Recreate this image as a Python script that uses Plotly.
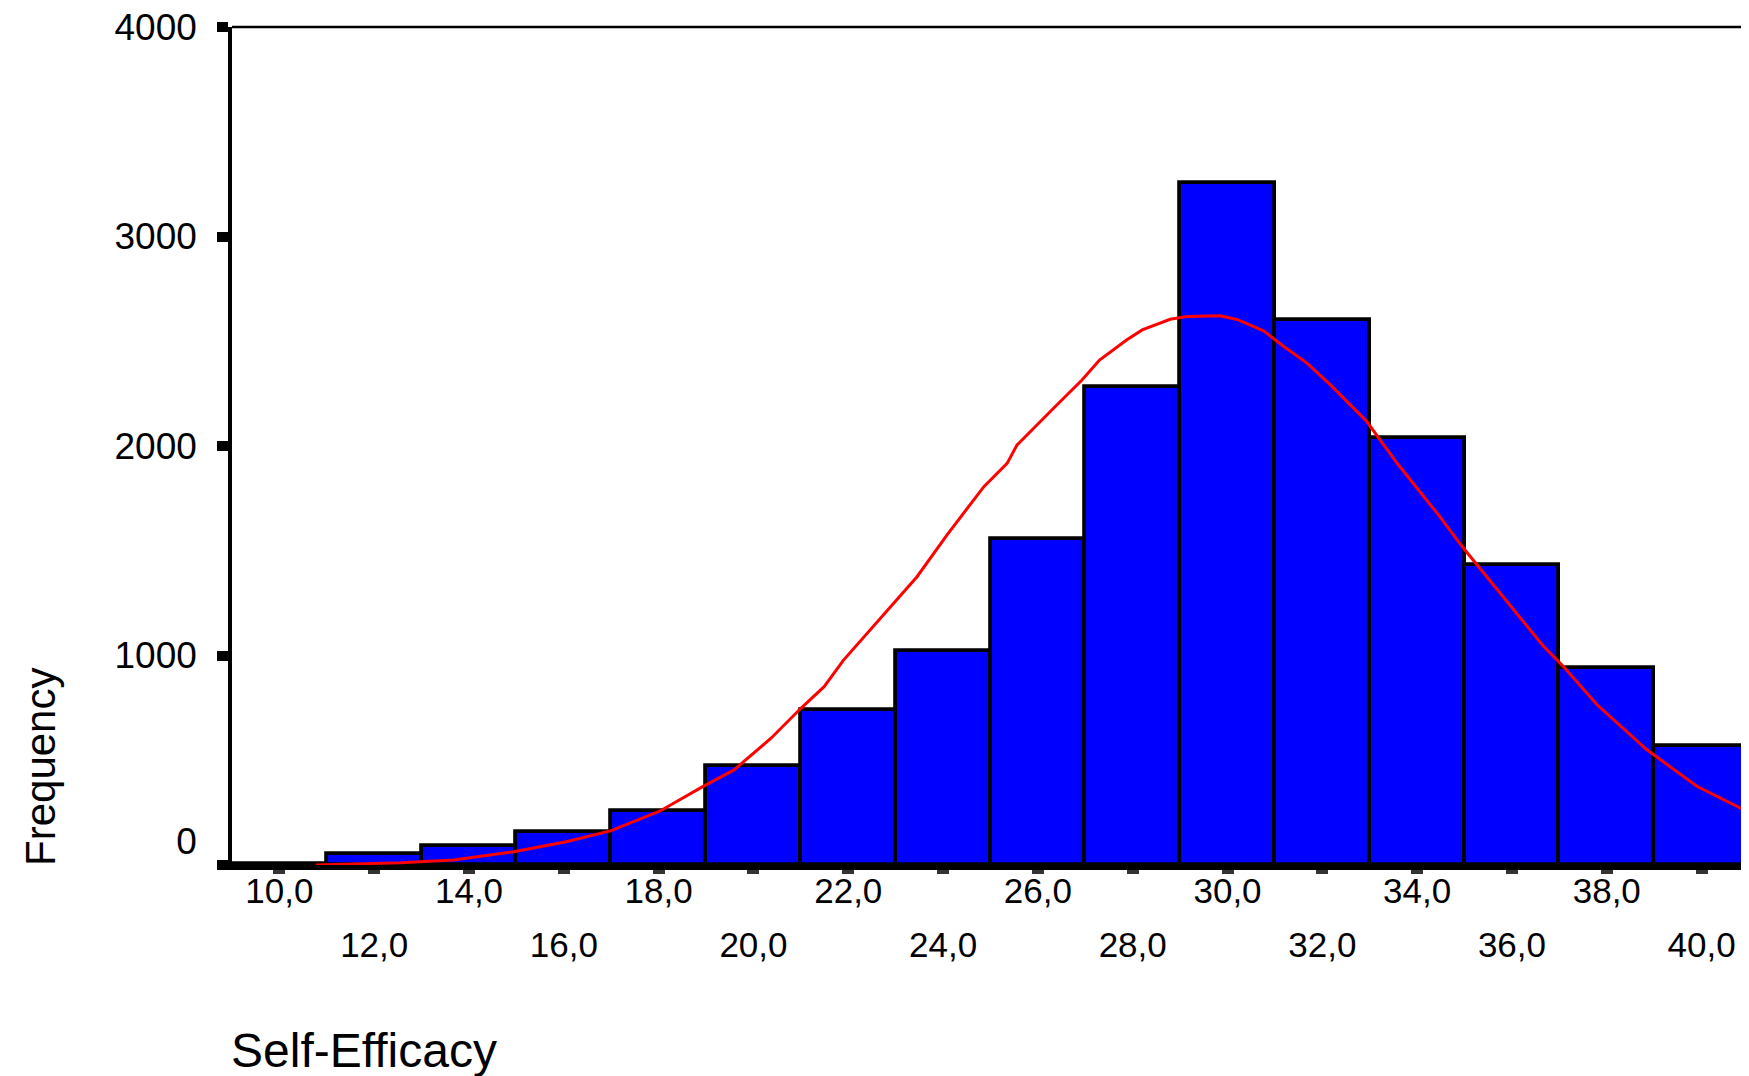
import plotly.graph_objects as go

# ---- data ----
bin_centers = [10, 12, 14, 16, 18, 20, 22, 24, 26, 28, 30, 32, 34, 36, 38, 40]
counts = [4, 51, 92, 159, 259, 473, 740, 1022, 1556, 2280, 3254, 2603, 2040, 1434, 941, 569]

curve_x = [10.77, 11.5, 12.56, 13.67, 14.97, 16.05, 17.0, 18.03, 18.93, 19.59, 20.37, 21.0,
           21.49, 21.9, 22.4, 22.96, 23.45, 24.08, 24.86, 25.35, 25.56, 26.33, 26.93, 27.3,
           27.87, 28.2, 28.79, 29.14, 29.84, 30.2, 30.76, 31.18, 31.67, 32.16, 32.93, 33.57,
           34.47, 34.97, 35.74, 36.66, 37.08, 37.79, 38.84, 39.9, 40.95]
curve_y = [0, 4, 11, 24, 64, 111, 164, 258, 374, 454, 605, 748,
           851, 978, 1106, 1249, 1376, 1575, 1806, 1917, 2005, 2180, 2315, 2410,
           2506, 2554, 2605, 2618, 2622, 2604, 2550, 2476, 2397, 2294, 2119, 1920,
           1665, 1514, 1299, 1045, 949, 766, 551, 376, 257]

row1_ticks = [10, 14, 18, 22, 26, 30, 34, 38]
row2_ticks = [12, 16, 20, 24, 28, 32, 36, 40]
y_ticks = [0, 1000, 2000, 3000, 4000]
y_ticktext = ["0<br> ", "1000", "2000", "3000", "4000"]

x_title = "Self-Efficacy"
y_title = "Frequency"

FONT = "Liberation Sans, Arial, sans-serif"

fig = go.Figure()
fig.add_trace(go.Bar(
    x=bin_centers, y=counts, width=2,
    marker=dict(color="#0000FF", line=dict(color="black", width=3.8)),
    showlegend=False,
))
fig.add_trace(go.Scatter(
    x=curve_x, y=curve_y, mode="lines", xaxis="x2",
    line=dict(color="#FF0000", width=3),
    showlegend=False,
))

all_ticks = sorted(row1_ticks + row2_ticks)
fig.update_layout(
    width=1741, height=1068,
    margin=dict(l=224, r=0, t=19, b=211),
    paper_bgcolor="white", plot_bgcolor="white",
    bargap=0,
    font=dict(family=FONT, color="black"),
    xaxis=dict(
        range=[9, 41], showgrid=False, zeroline=False,
        showline=True, linecolor="black", linewidth=4.5,
        tickmode="array", tickvals=all_ticks,
        ticktext=[f"{v},0" if v in row1_ticks else "" for v in all_ticks],
        ticks="outside", ticklen=4, tickwidth=12, tickcolor="#333333",
        ticklabelstandoff=-13, ticklabeloverflow="allow",
        tickfont=dict(size=35, family=FONT, color="black"),
    ),
    xaxis2=dict(
        range=[9, 41], overlaying="x", side="bottom", showgrid=False, zeroline=False,
        showline=False,
        tickmode="array", tickvals=row2_ticks,
        ticktext=[f"{v},0" for v in row2_ticks],
        ticks="outside", ticklen=4, tickcolor="rgba(0,0,0,0)",
        ticklabelstandoff=45, ticklabeloverflow="allow",
        tickfont=dict(size=35, family=FONT, color="black"),
    ),
    yaxis=dict(
        range=[0, 4000], showgrid=False, zeroline=False,
        showline=True, linecolor="black", linewidth=3.5,
        tickmode="array", tickvals=y_ticks, ticktext=y_ticktext,
        ticks="outside", ticklen=11, tickwidth=10, tickcolor="black",
        ticklabelstandoff=13, ticklabeloverflow="allow",
        tickfont=dict(size=37, family=FONT, color="black"),
    ),
    shapes=[dict(type="line", xref="paper", yref="paper", x0=0, x1=1, y0=1, y1=1,
                 line=dict(color="black", width=2.5))],
    annotations=[
        dict(text=x_title, xref="paper", yref="paper", x=-0.002, y=-0.221,
             xanchor="left", yanchor="middle", showarrow=False,
             font=dict(size=48, family=FONT, color="black")),
        dict(text=y_title, xref="paper", yref="paper", x=-0.1259, y=0.117,
             xanchor="center", yanchor="middle", textangle=-90, showarrow=False,
             font=dict(size=42, family=FONT, color="black")),
    ],
)

fig.write_html("out.html")
